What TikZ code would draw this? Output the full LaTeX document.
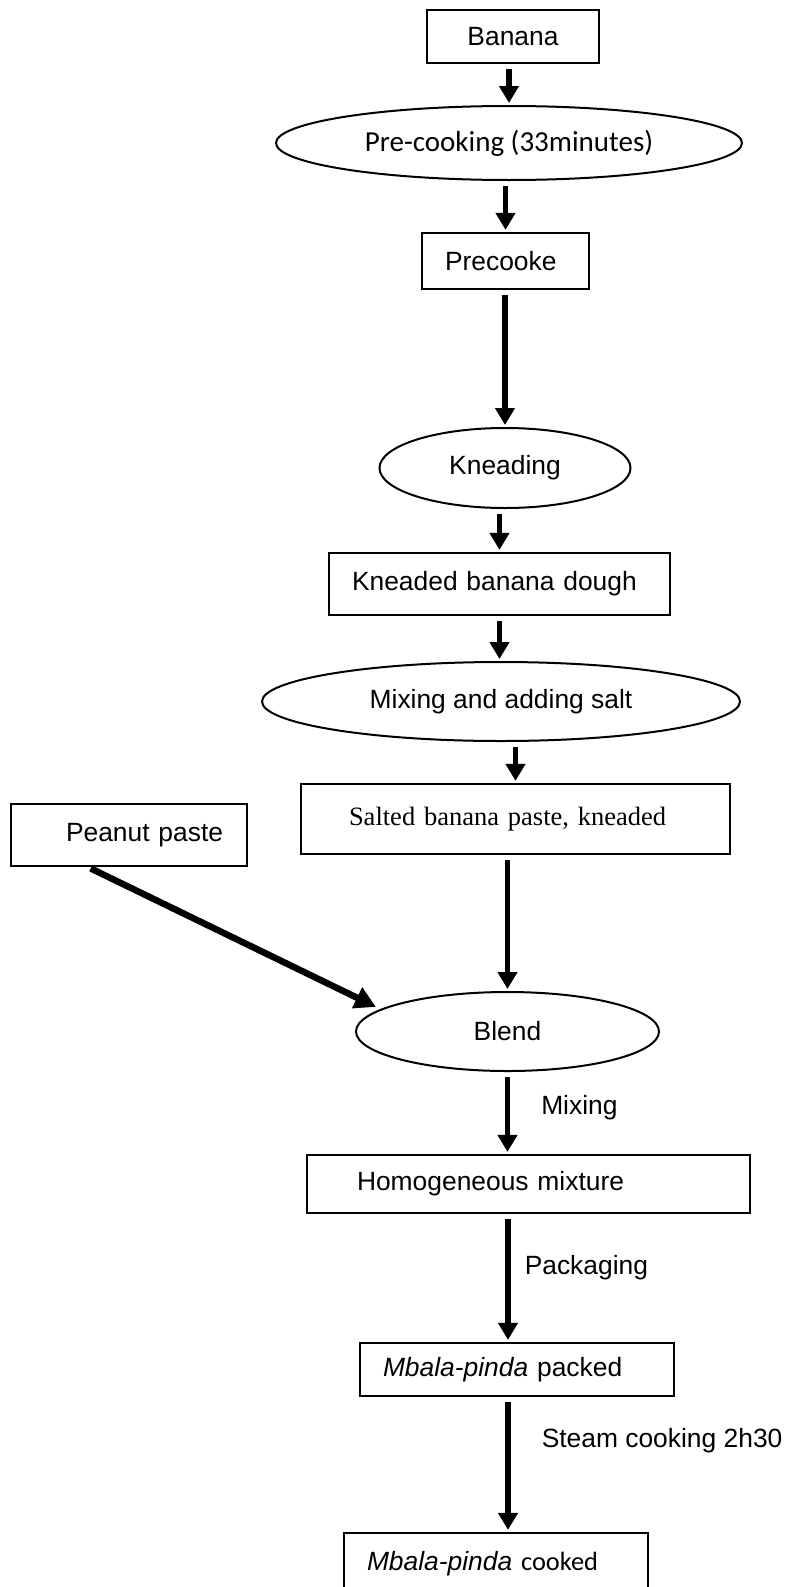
\documentclass[tikz,border=0pt]{standalone}
\usepackage{fontspec}
\setmainfont{Liberation Sans}
\newfontfamily\calibrifont{Carlito}
\newfontfamily\timesfont{Liberation Serif}
\usetikzlibrary{shapes.geometric,arrows.meta}

\begin{document}
\begin{tikzpicture}[x=1pt,y=-1pt,
  font=\fontsize{26.4}{30}\selectfont,
  >={Triangle[width=19pt,length=17pt]},
  stepbox/.style={draw, line width=2.2pt, inner xsep=0pt, inner ysep=0pt, align=left},
  stepoval/.style={draw, ellipse, line width=2pt, inner sep=0pt},
  flow/.style={->, line width=5.5pt, shorten <=5pt, shorten >=2pt},
  feed/.style={-{Triangle[width=22pt,length=21pt]}, line width=6.5pt, shorten <=3pt, shorten >=5pt},
  lbl/.style={inner sep=0pt}]
  \useasboundingbox (0,0) rectangle (785,1587);
  \coordinate (spine) at (508,0);

  % Nodes
  \node[stepbox, align=center, text width=172pt, minimum height=53pt] (Banana) at (513,36.5) {Banana};
  \node[stepoval, minimum width=466pt, minimum height=74pt, font=\calibrifont\fontsize{29}{34}\selectfont] (PreCook) at (509,143) {Pre-cooking (33minutes)};
  \node[stepbox, text width=167pt, minimum height=56pt] (Precooked) at (505.5,261) {\hspace*{23pt}Precooke};
  \node[stepoval, minimum width=251pt, minimum height=80pt] (Kneading) at (505,468) {Kneading};
  \node[stepbox, text width=341pt, minimum height=62pt] (Dough) at (499.5,584) {\hspace*{23pt}Kneaded banana dough};
  \node[stepoval, minimum width=478pt, minimum height=79pt] (Salting) at (501,701.5) {Mixing and adding salt};
  \node[stepbox, text width=429pt, minimum height=70pt, font=\timesfont\fontsize{26.5}{30}\selectfont] (Salted) at (515.5,819) {\hspace*{48pt}Salted banana paste, kneaded};
  \node[stepbox, text width=236pt, minimum height=62pt] (Peanut) at (129,835) {\hspace*{55pt}Peanut paste};
  \node[stepoval, minimum width=303pt, minimum height=79pt] (Blend) at (507.5,1031.5) {Blend};
  \node[stepbox, text width=443pt, minimum height=58pt] (Homog) at (528.5,1184) {\hspace*{50pt}Homogeneous mixture};
  \node[stepbox, text width=314pt, minimum height=53pt] (Packed) at (517,1369.5) {\hspace*{23pt}\textit{Mbala-pinda} packed};
  \node[stepbox, text width=304pt, minimum height=62pt] (Cooked) at (496,1564) {\hspace*{23pt}\textit{Mbala-pinda} {\calibrifont cooked}};

  % Arrows
  \draw[flow] (PreCook.north |- Banana.south) -- (PreCook.north);
  \draw[flow] (Precooked.north |- PreCook.south) -- (Precooked.north);
  \draw[flow] (Kneading.north |- Precooked.south) -- (Kneading.north);
  \draw[flow] (Dough.north |- Kneading.south) -- (Dough.north);
  \draw[flow] (Dough.south) -- (Dough.south |- Salting.north);
  \draw[flow] (Salted.north |- Salting.south) -- (Salted.north);
  \draw[flow] (Blend.north |- Salted.south) -- (Blend.north);
  \draw[flow] (Blend.south) -- (Blend.south |- Homog.north) node[lbl, pos=.43, right=31pt] (MixLbl) {Mixing};
  \draw[flow] (spine |- Homog.south) -- (spine |- Packed.north) node[lbl, pos=.42, right=14pt] (PackLbl) {Packaging};
  \draw[flow] (spine |- Packed.south) -- (spine |- Cooked.north) node[lbl, pos=.32, right=31pt] (SteamLbl) {Steam cooking 2h30};
  \draw[feed] ([xshift=-41pt]Peanut.south) -- (Blend.170);
\end{tikzpicture}
\end{document}
